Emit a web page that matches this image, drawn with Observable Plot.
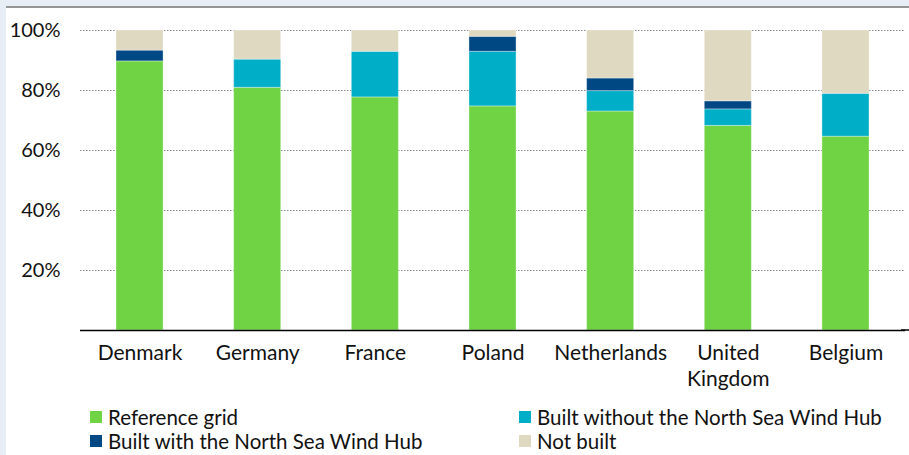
<!DOCTYPE html>
<html><head><meta charset="utf-8">
<script src="https://cdn.jsdelivr.net/npm/d3@7"></script>
<script src="https://cdn.jsdelivr.net/npm/@observablehq/plot@0.6"></script>
<style>
html,body{margin:0;padding:0;}
body{width:909px;height:455px;background:#e7eef6;position:relative;overflow:hidden;font-family:Lato,"DejaVu Sans",sans-serif;}
#topline{position:absolute;left:6px;top:6px;width:903px;height:2px;background:#969696;}
#panel{position:absolute;left:6px;top:8px;width:903px;height:447px;background:#fff;}
#chart{position:absolute;left:0;top:0;}
#legend{position:absolute;left:0;top:0;width:903px;}
.li{position:absolute;display:flex;align-items:center;font-size:20.5px;color:#111;white-space:nowrap;}
.sw{width:12px;height:12px;margin-right:6px;}
</style>
</head><body>
<div id="topline"></div>
<div id="panel"><div id="chart"></div><div id="legend"></div></div>
<script>
const countries = ["Denmark","Germany","France","Poland","Netherlands","United Kingdom","Belgium"];
const countryLabels = ["Denmark","Germany","France","Poland","Netherlands","United\nKingdom","Belgium"];
const seriesNames = ["Reference grid","Built without the North Sea Wind Hub","Built with the North Sea Wind Hub","Not built"];
const seriesColors = ["#6fd344","#00aec7","#004884","#dfd9c1"];
const referenceGrid = [89.7, 80.9, 77.7, 74.7, 73.0, 68.2, 64.6];
const builtWithoutHub = [0, 9.4, 15.2, 18.2, 6.8, 5.5, 14.3];
const builtWithHub = [3.6, 0, 0, 5.0, 4.2, 2.7, 0];
const notBuilt = [6.7, 9.7, 7.1, 2.1, 16.0, 23.6, 21.1];
const yTicks = [20, 40, 60, 80, 100];

const seriesValues = [referenceGrid, builtWithoutHub, builtWithHub, notBuilt];
const rows = [];
seriesValues.forEach((vals, si) => {
  countries.forEach((c, ci) => rows.push({country: c, series: seriesNames[si], value: vals[ci]}));
});
const labelOf = new Map(countries.map((c, i) => [c, countryLabels[i]]));

const plot = Plot.plot({
  width: 903,
  height: 395,
  marginTop: 22,
  marginBottom: 73,
  marginLeft: 74,
  marginRight: 4,
  style: {fontFamily: "Lato, 'DejaVu Sans', sans-serif", fontSize: "20px", color: "#111", background: "transparent"},
  x: {domain: countries, paddingInner: 0.6, paddingOuter: 0.306, round: false, label: null},
  y: {domain: [0, 100], label: null},
  color: {domain: seriesNames, range: seriesColors},
  marks: [
    Plot.ruleY(yTicks, {stroke: "#8a8a8a", strokeDasharray: "1.5,1.5", strokeWidth: 1}),
    Plot.barY(rows, {x: "country", y: "value", fill: "series", stroke: "#fff", strokeOpacity: 0.35, strokeWidth: 1, order: seriesNames}),
    Plot.ruleY([0], {stroke: "#000", strokeWidth: 1.5}),
    Plot.axisY({ticks: yTicks, tickFormat: d => d + "%", tickSize: 0, tickPadding: 20, label: null, fontSize: 20}),
    Plot.axisX({tickSize: 0, tickPadding: 12, tickFormat: d => labelOf.get(d), label: null, fontSize: 21, lineHeight: 1.2})
  ]
});
document.getElementById("chart").appendChild(plot);
// extend axis line to the right edge
const svg = d3.select(plot);
svg.append("line").attr("x1", 895).attr("x2", 903).attr("y1", 322).attr("y2", 322).attr("stroke", "#000").attr("stroke-width", 1.5);

const legendPos = [[84, 397], [513, 397], [84, 421], [513, 421]];
const leg = document.getElementById("legend");
seriesNames.forEach((n, i) => {
  const d = document.createElement("div");
  d.className = "li";
  d.style.left = legendPos[i][0] + "px";
  d.style.top = legendPos[i][1] + "px";
  d.innerHTML = `<span class="sw" style="background:${seriesColors[i]}"></span><span>${n}</span>`;
  leg.appendChild(d);
});
</script>
</body></html>
